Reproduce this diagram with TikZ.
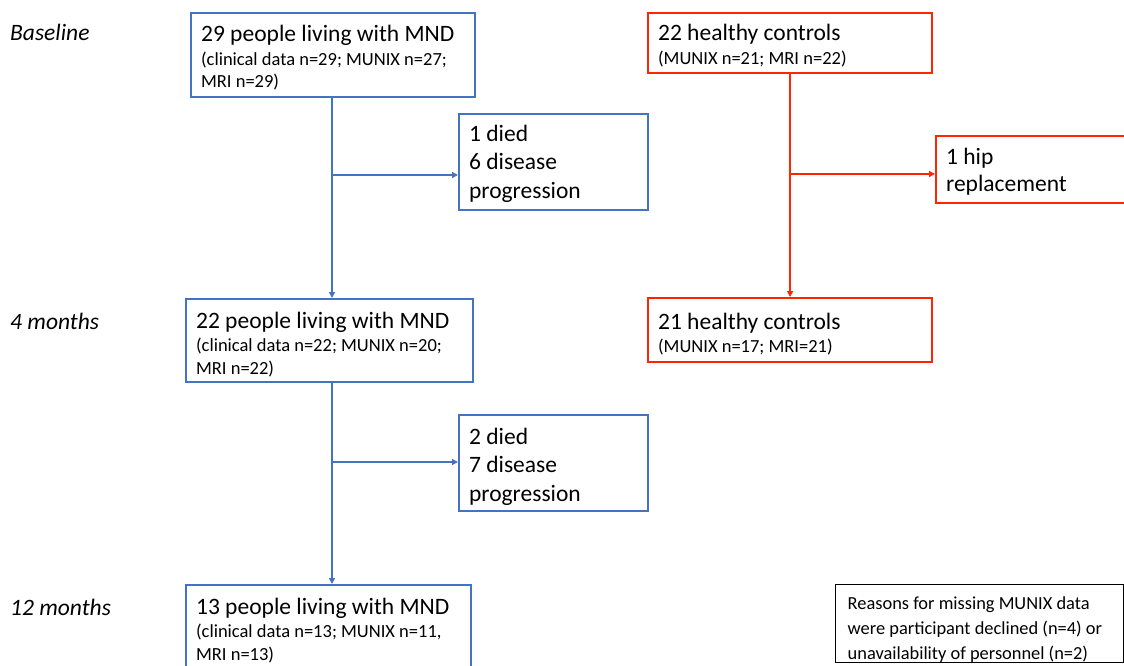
\documentclass[tikz,border=0pt]{standalone}
\usepackage{fontspec}
\setmainfont{Carlito}
\usetikzlibrary{arrows.meta}
\definecolor{mblue}{RGB}{68,114,196}
\definecolor{mred}{RGB}{255,38,0}
\newcommand{\smalltxt}{\fontsize{18.5}{22.5}\selectfont}
\newcommand{\pd}[1]{\rule{0pt}{\dimexpr\fontcharht\font`l+#1\relax}}
\begin{document}
\begin{tikzpicture}[x=1pt,y=-1pt,
  box/.style={draw, line width=2.2pt, anchor=north west, align=flush left,
              inner xsep=10pt, inner ysep=0pt},
  headfont/.style={font=\fontsize{23.5}{22.5}\selectfont},
  listfont/.style={font=\fontsize{23.5}{28.5}\selectfont},
  bluebox/.style={box, draw=mblue},
  redbox/.style={box, draw=mred},
  notebox/.style={draw=black, line width=1.4pt, anchor=north west, align=flush left,
              inner xsep=12pt, inner ysep=0pt, font=\fontsize{18.4}{25}\selectfont},
  conn/.style={line width=2pt, -{Triangle[length=6pt,width=6pt]}},
  bconn/.style={conn, draw=mblue},
  rconn/.style={conn, draw=mred},
  period/.style={anchor=base west, inner sep=0pt, font=\fontsize{23.5}{28}\selectfont\itshape}
]
\useasboundingbox (0,0) rectangle (1124,665);
\clip (0,0) rectangle (1124,665);
\fill[white] (0,0) rectangle (1124,665);

% period labels
\node[period] (lb) at (10,40) {Baseline};
\node[period] (l4) at (10,329) {4 months};
\node[period] (l12) at (10,615) {12 months};

% blue column
\node[bluebox, headfont, text width=264pt, minimum width=284pt, minimum height=84pt] (p1) at (190,12)
  {\pd{6pt}29 people living with MND\\[1pt]\smalltxt (clinical data n=29; MUNIX n=27;\\ MRI n=29)};
\node[bluebox, listfont, text width=169pt, minimum width=189pt, minimum height=96pt] (d1) at (458,113)
  {\pd{3pt}1 died\\6 disease\\progression};
\node[bluebox, headfont, text width=267pt, minimum width=287pt, minimum height=83pt] (p2) at (185,298)
  {\pd{8pt}22 people living with MND\\[1pt]\smalltxt (clinical data n=22; MUNIX n=20;\\ MRI n=22)};
\node[bluebox, listfont, text width=169pt, minimum width=189pt, minimum height=96pt] (d2) at (458,414)
  {\pd{7pt}2 died\\7 disease\\progression};
\node[bluebox, headfont, text width=265pt, minimum width=285pt, minimum height=83pt] (p3) at (185,584)
  {\pd{8pt}13 people living with MND\\[1pt]\smalltxt (clinical data n=13; MUNIX n=11,\\ MRI n=13)};

% red column
\node[redbox, headfont, text width=264pt, minimum width=284pt, minimum height=60pt] (h1) at (647,12)
  {\pd{5pt}22 healthy controls\\[1pt]\smalltxt (MUNIX n=21; MRI n=22)};
\node[redbox, font=\fontsize{23.5}{27}\selectfont, text width=200pt, minimum width=220pt, minimum height=67pt] (hip) at (935,135)
  {\pd{4pt}1 hip\\replacement};
\node[redbox, headfont, text width=264pt, minimum width=284pt, minimum height=64pt] (h2) at (647,297)
  {\pd{8pt}21 healthy controls\\[1pt]\smalltxt (MUNIX n=17; MRI=21)};

% note
\node[notebox, text width=264pt, minimum width=288pt, minimum height=77pt] (note) at (835,584)
  {\pd{12pt}Reasons for missing MUNIX data\\were participant declined (n=4) or\\unavailability of personnel (n=2)};

% connectors
\coordinate (b1) at (332,175);
\coordinate (b2) at (332,462);
\coordinate (rb) at (789,174);
\draw[bconn] (p1.south -| b1) -- (p2.north -| b1);
\draw[bconn] (b1) -- (b1 -| d1.west);
\draw[bconn] (p2.south -| b2) -- (p3.north -| b2);
\draw[bconn] (b2) -- (b2 -| d2.west);
\draw[rconn] (h1.south) -- (h2.north);
\draw[rconn] (rb) -- (rb -| hip.west);
\end{tikzpicture}
\end{document}
